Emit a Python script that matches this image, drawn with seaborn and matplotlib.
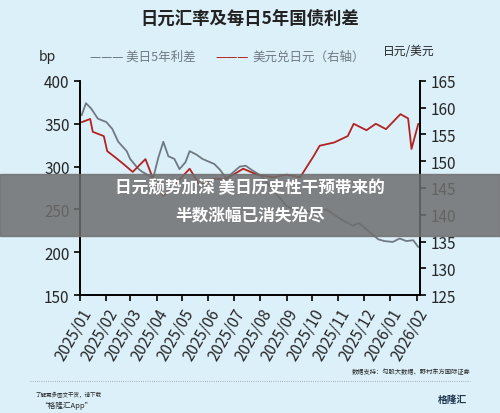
import matplotlib
matplotlib.use("Agg")
import matplotlib.pyplot as plt
import seaborn as sns
import pandas as pd

spread_dates = ["2025-01-03", "2025-01-08", "2025-01-14", "2025-01-22", "2025-02-01", "2025-02-08",
                "2025-02-15", "2025-02-25", "2025-03-01", "2025-03-10", "2025-03-15", "2025-03-22",
                "2025-03-28", "2025-04-03", "2025-04-09", "2025-04-15", "2025-04-22", "2025-04-28",
                "2025-05-05", "2025-05-10", "2025-05-18", "2025-05-25", "2025-06-01", "2025-06-08",
                "2025-06-15", "2025-06-22", "2025-07-01", "2025-07-08", "2025-07-15", "2025-07-22",
                "2025-08-01", "2025-08-10", "2025-08-18", "2025-08-25", "2025-09-01", "2025-09-10",
                "2025-09-18", "2025-09-25", "2025-10-05", "2025-10-12", "2025-10-18", "2025-10-25",
                "2025-11-05", "2025-11-12", "2025-11-18", "2025-11-25", "2025-12-05", "2025-12-12",
                "2025-12-18", "2025-12-25", "2026-01-04", "2026-01-12", "2026-01-20", "2026-01-28",
                "2026-02-03"]
spread = [360, 374, 368, 356, 352, 344, 329, 318, 309, 298, 294, 290, 286, 310, 329, 312, 309, 297,
          305, 318, 314, 309, 306, 303, 296, 286, 294, 300, 301, 296, 290, 280, 270, 262, 254, 250,
          248, 247, 252, 248, 250, 245, 238, 234, 231, 234, 226, 220, 215, 213, 212, 216, 213, 214, 206]

fx_dates = ["2025-01-03", "2025-01-13", "2025-01-16", "2025-01-29", "2025-02-02", "2025-02-14",
            "2025-02-21", "2025-03-04", "2025-03-19", "2025-03-28", "2025-04-09", "2025-04-19",
            "2025-05-10", "2025-05-22", "2025-06-06", "2025-06-22", "2025-07-12", "2025-07-28",
            "2025-08-16", "2025-09-01", "2025-09-17", "2025-09-25", "2025-10-03", "2025-10-10",
            "2025-10-27", "2025-11-12", "2025-11-19", "2025-12-04", "2025-12-15", "2025-12-27",
            "2026-01-13", "2026-01-22", "2026-01-26", "2026-02-03"]
usdjpy = [157.3, 157.9, 155.5, 154.7, 151.9, 150.4, 149.5, 148.0, 150.4, 146.7, 143.5, 145.0,
          148.6, 145.5, 146.7, 146.7, 148.6, 147.5, 147.0, 147.5, 147.0, 149.0, 151.0, 152.9,
          153.5, 154.7, 157.0, 155.8, 157.0, 156.0, 158.8, 158.0, 152.3, 157.0]

month_ticks = pd.date_range("2025-01-01", "2026-02-01", freq="MS")
month_labels = [d.strftime("%Y/%m") for d in month_ticks]

sns.set_theme(style="ticks")
plt.rcParams["font.family"] = ["Noto Sans CJK SC", "DejaVu Sans"]
bg = "#dcf0fa"
gray = "#6f7a80"
red = "#b22222"

fig = plt.figure(figsize=(5, 4.14), dpi=100, facecolor=bg)
ax = fig.add_axes([0.16, 0.285, 0.68, 0.517], facecolor=bg)
ax2 = ax.twinx()

df1 = pd.DataFrame({"date": pd.to_datetime(spread_dates), "v": spread})
df2 = pd.DataFrame({"date": pd.to_datetime(fx_dates), "v": usdjpy})
sns.lineplot(data=df1, x="date", y="v", ax=ax, color=gray, lw=1.3)
sns.lineplot(data=df2, x="date", y="v", ax=ax2, color=red, lw=1.3)

ax.set_xlim(pd.Timestamp("2025-01-01"), pd.Timestamp("2026-02-05"))
ax.set_ylim(150, 400)
ax2.set_ylim(125, 165)
ax.set_yticks(range(150, 401, 50))
ax2.set_yticks(range(125, 166, 5))
ax.set_xticks(month_ticks)
ax.set_xticklabels(month_labels, rotation=60, ha="right", rotation_mode="anchor", fontsize=11)
for a in (ax, ax2):
    a.set_xlabel("")
    a.set_ylabel("")
    a.spines["top"].set_visible(False)
    a.tick_params(labelsize=11, length=4, width=1.2, color="black")
    for s in a.spines.values():
        s.set_linewidth(1.2)
        s.set_color("black")

fig.text(0.5, 0.955, "日元汇率及每日5年国债利差", ha="center", va="center", fontsize=12.5,
         fontweight="bold", color="#222222")
fig.text(0.095, 0.862, "bp", ha="center", va="center", fontsize=10)
fig.text(0.18, 0.862, "——— 美日5年利差", color=gray, ha="left", va="center", fontsize=9)
fig.text(0.43, 0.862, "———", color=red, ha="left", va="center", fontsize=9)
fig.text(0.505, 0.862, "美元兑日元（右轴）", color=gray, ha="left", va="center", fontsize=9)
fig.text(0.765, 0.875, "日元/美元", ha="left", va="center", fontsize=8.5)

# overlay banner
fig.patches.append(plt.Rectangle((0, 0.428), 1, 0.15, transform=fig.transFigure,
                                 color="#6e6e6e", alpha=0.85, zorder=5))
fig.text(0.5, 0.545, "日元颓势加深 美日历史性干预带来的", ha="center", va="center",
         color="white", fontsize=12, fontweight="bold", zorder=6)
fig.text(0.5, 0.478, "半数涨幅已消失殆尽", ha="center", va="center",
         color="white", fontsize=12, fontweight="bold", zorder=6)

fig.text(0.94, 0.1, "数据支持：勾股大数据、野村东方国际证券", ha="right", va="center", fontsize=4.5)
fig.lines.append(plt.Line2D([0.06, 0.94], [0.078, 0.078], transform=fig.transFigure,
                            color="#999999", lw=0.6, ls=":"))
fig.text(0.07, 0.047, "了解更多图文干货，请下载", ha="left", va="center", fontsize=4, style="italic")
fig.text(0.08, 0.02, "“格隆汇App”", ha="left", va="center", fontsize=5.5)
fig.text(0.935, 0.035, "格隆汇", ha="right", va="center", fontsize=7, fontweight="bold", color="#1f3550")

fig.savefig("out.png", dpi=100, facecolor=bg)
